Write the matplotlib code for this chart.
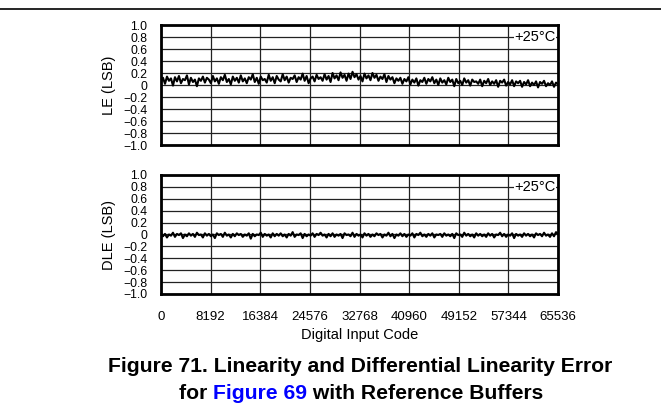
import numpy as np
import matplotlib
matplotlib.use("Agg")
import matplotlib.pyplot as plt
from matplotlib.lines import Line2D

plt.rcParams["font.family"] = ["Liberation Sans", "DejaVu Sans"]

# ===== DATA =====
X_MAX = 65536
x_ticks = [0, 8192, 16384, 24576, 32768, 40960, 49152, 57344, 65536]
y_ticks = [1.0, 0.8, 0.6, 0.4, 0.2, 0, -0.2, -0.4, -0.6, -0.8, -1.0]
y_tick_labels = ["1.0", "0.8", "0.6", "0.4", "0.2", "0", "\u22120.2", "\u22120.4",
                 "\u22120.6", "\u22120.8", "\u22121.0"]

# LE trace, sampled every ~328 codes
le_values = [
    0.05, 0.12, 0.02, 0.14, 0.07, 0.11, -0.01, 0.13, 0.06, 0.15, 0.03, 0.10, 0.08, 0.16, 0.01, 0.12, 0.05, 0.09, -0.02, 0.11,
    0.07, 0.14, 0.04, 0.12, 0.09, 0.03, 0.15, 0.06, 0.11, 0.02, 0.13, 0.08, 0.17, 0.05, 0.10, 0.01, 0.14, 0.07, 0.12, 0.04,
    0.16, 0.06, 0.11, 0.03, 0.13, 0.09, 0.18, 0.05, 0.12, 0.02, 0.14, 0.08, 0.10, 0.04, 0.17, 0.07, 0.13, 0.03, 0.15, 0.09,
    0.06, 0.18, 0.08, 0.14, 0.04, 0.12, 0.10, 0.16, 0.05, 0.13, 0.09, 0.19, 0.07, 0.15, 0.03, 0.11, 0.14, 0.06, 0.17, 0.10,
    0.13, 0.07, 0.18, 0.09, 0.15, 0.05, 0.20, 0.11, 0.16, 0.08, 0.21, 0.12, 0.17, 0.07, 0.19, 0.10, 0.22, 0.13, 0.18, 0.09,
    0.15, 0.06, 0.19, 0.11, 0.16, 0.08, 0.20, 0.12, 0.17, 0.07, 0.14, 0.10, 0.18, 0.05, 0.15, 0.09, 0.13, 0.03, 0.11, 0.07,
    0.12, 0.02, 0.10, 0.06, 0.13, 0.01, 0.09, 0.04, 0.11, -0.01, 0.08, 0.05, 0.12, 0.02, 0.10, 0.06, 0.13, 0.03, 0.09, 0.00,
    0.11, 0.04, 0.08, 0.01, 0.12, 0.05, 0.09, -0.02, 0.10, 0.03, 0.07, 0.00, 0.11, 0.04, 0.08, -0.01, 0.09, 0.05, 0.06, 0.02,
    0.09, -0.02, 0.07, 0.03, 0.10, 0.00, 0.06, 0.02, 0.08, -0.03, 0.07, 0.04, 0.09, -0.01, 0.05, 0.01, 0.08, -0.02, 0.06, 0.03,
    0.07, -0.03, 0.05, 0.01, 0.08, -0.02, 0.04, 0.00, 0.06, -0.04, 0.05, 0.02, 0.07, -0.02, 0.03, 0.00, 0.06, -0.03, 0.04, 0.01,
]

# DLE trace, same sampling
dle_values = [
    0.02, -0.03, 0.01, -0.05, 0.00, -0.02, 0.03, -0.04, 0.01, -0.01, 0.02, -0.06, 0.00, -0.03, 0.02, -0.02, 0.01, -0.04, 0.03, -0.01,
    0.00, -0.05, 0.02, -0.02, 0.01, -0.03, 0.00, -0.06, 0.02, -0.01, 0.01, -0.04, 0.03, -0.02, 0.00, -0.05, 0.01, -0.03, 0.02, -0.01,
    0.01, -0.04, 0.00, -0.02, 0.02, -0.07, 0.01, -0.03, 0.00, -0.01, 0.03, -0.04, 0.01, -0.02, 0.00, -0.05, 0.02, -0.03, 0.01, -0.02,
    0.02, -0.03, 0.00, -0.05, 0.01, -0.02, 0.04, -0.04, 0.00, -0.01, 0.02, -0.06, 0.01, -0.03, 0.00, -0.02, 0.02, -0.04, 0.01, -0.01,
    0.03, -0.02, 0.00, -0.05, 0.01, -0.03, 0.02, -0.04, 0.00, -0.02, 0.01, -0.06, 0.02, -0.01, 0.00, -0.03, 0.03, -0.04, 0.01, -0.02,
    0.00, -0.05, 0.02, -0.02, 0.01, -0.04, 0.00, -0.03, 0.02, -0.01, 0.01, -0.05, 0.00, -0.02, 0.03, -0.03, 0.01, -0.06, 0.00, -0.02,
    0.02, -0.03, 0.01, -0.04, 0.00, -0.02, 0.02, -0.05, 0.01, -0.01, 0.03, -0.03, 0.00, -0.04, 0.01, -0.02, 0.02, -0.05, 0.00, -0.01,
    0.01, -0.04, 0.02, -0.02, 0.00, -0.03, 0.01, -0.06, 0.02, -0.01, 0.00, -0.04, 0.03, -0.02, 0.01, -0.03, 0.00, -0.05, 0.02, -0.02,
    0.01, -0.03, 0.00, -0.04, 0.02, -0.02, 0.01, -0.05, 0.00, -0.01, 0.03, -0.03, 0.01, -0.04, 0.00, -0.02, 0.02, -0.06, 0.01, -0.02,
    0.00, -0.04, 0.02, -0.02, 0.01, -0.03, 0.00, -0.05, 0.02, -0.01, 0.01, -0.03, 0.03, -0.02, 0.00, -0.04, 0.02, -0.03, 0.04, 0.01,
]

codes = np.linspace(0, X_MAX, len(le_values))

# ===== PLOT =====
W, H = 661, 417
fig = plt.figure(figsize=(W / 100, H / 100), dpi=100)

def px_axes(left, top, right, bottom):
    return fig.add_axes([left / W, 1 - bottom / H, (right - left) / W, (bottom - top) / H])

ax_le = px_axes(161, 25, 558, 145)
ax_dle = px_axes(161, 175, 558, 294)

for ax, vals, ylab in ((ax_le, le_values, "LE (LSB)"), (ax_dle, dle_values, "DLE (LSB)")):
    ax.set_xlim(0, X_MAX)
    ax.set_ylim(-1.0, 1.0)
    ax.set_yticks(y_ticks)
    ax.set_yticklabels(y_tick_labels, fontsize=8.8)
    ax.set_xticks(x_ticks)
    ax.tick_params(length=0)
    ax.tick_params(axis="y", pad=10)
    ax.grid(True, color="#222222", linewidth=0.9)
    ax.set_axisbelow(True)
    for s in ax.spines.values():
        s.set_linewidth(2.0)
        s.set_color("black")
    ax.plot(codes, vals, color="black", linewidth=1.5, zorder=3)
    ax.set_ylabel(ylab, fontsize=10.5, labelpad=5)
    ax.text(0.993, 0.9, "+25\u00b0C", transform=ax.transAxes, ha="right", va="center",
            fontsize=10.5, zorder=5,
            bbox=dict(facecolor="white", edgecolor="none", pad=0.3))

ax_le.set_xticklabels([])
ax_dle.set_xticklabels([str(t) for t in x_ticks], fontsize=9.5)
ax_dle.tick_params(axis="x", pad=12)
ax_dle.set_xlabel("Digital Input Code", fontsize=10.5, labelpad=4)

# top rule
fig.add_artist(Line2D([0, 1], [1 - 9 / H, 1 - 9 / H], transform=fig.transFigure,
                      color="black", linewidth=1.2))

# caption
CAP = 15.2
fig.text(108 / W, 1 - 372 / H, "Figure 71. Linearity and Differential Linearity Error",
         fontsize=CAP, fontweight="bold", ha="left", va="baseline")
t1 = fig.text(179 / W, 1 - 399 / H, "for ", fontsize=CAP, fontweight="bold",
              ha="left", va="baseline")
t2 = fig.text(0, 1 - 399 / H, "Figure 69", fontsize=CAP, fontweight="bold", color="#0000ff",
              ha="left", va="baseline")
t3 = fig.text(0, 1 - 399 / H, " with Reference Buffers", fontsize=CAP, fontweight="bold",
              ha="left", va="baseline")

fig.canvas.draw()
r = fig.canvas.get_renderer()
inv = fig.transFigure.inverted()
x2, _ = inv.transform((t1.get_window_extent(r).x1, 0))
t2.set_x(x2)
fig.canvas.draw()
x3, _ = inv.transform((t2.get_window_extent(r).x1, 0))
t3.set_x(x3)

fig.savefig("out.png", dpi=100)
